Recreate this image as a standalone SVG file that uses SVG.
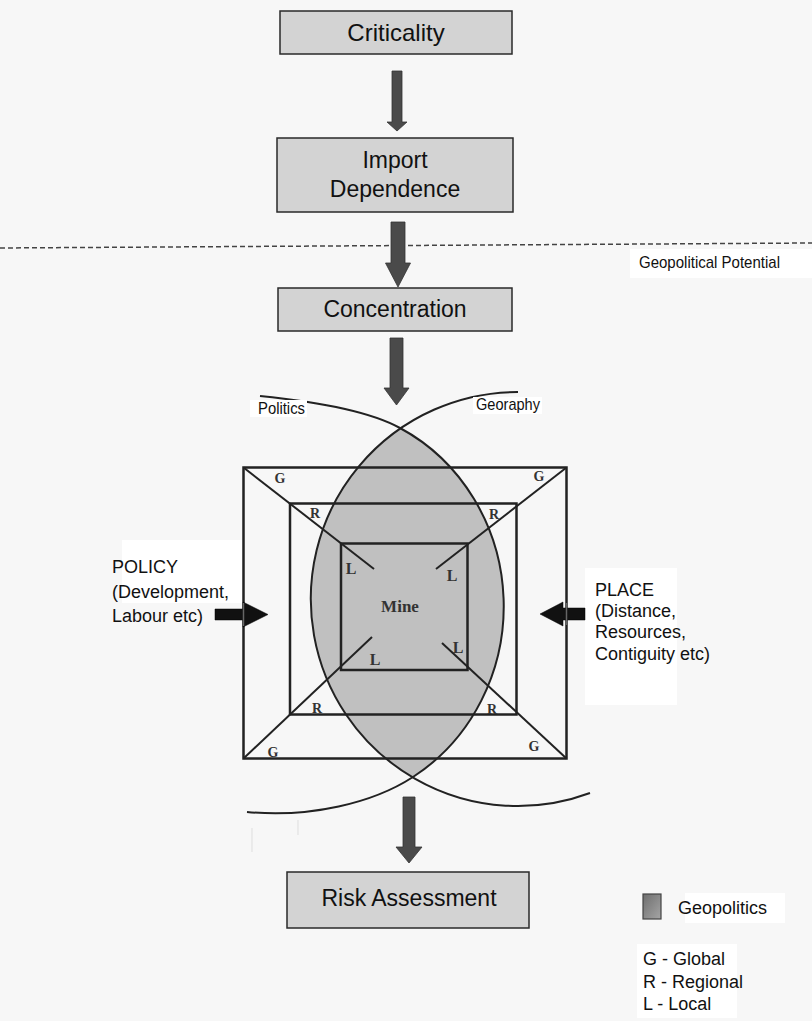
<svg xmlns="http://www.w3.org/2000/svg" width="812" height="1021" viewBox="0 0 812 1021">
<defs>
<style>
.box{fill:#d3d3d3;stroke:#2a2a2a;stroke-width:1.5}
.bt{font-family:"Liberation Sans",Arial,sans-serif;fill:#111;text-anchor:middle}
.t{font-family:"Liberation Sans",Arial,sans-serif;fill:#111}
.sq{fill:none;stroke:#222;stroke-width:2.5}
.dg{stroke:#222;stroke-width:2}
.arc{fill:none;stroke:#222;stroke-width:2}
.sl{font-family:"Liberation Serif","Times New Roman",serif;font-weight:bold;fill:#333;text-anchor:middle}
.va{fill:#4a4a4a;stroke:#333;stroke-width:0.8}
.ha{fill:#111;stroke:#000;stroke-width:0.5}
.wh{fill:#ffffff}
</style>
<linearGradient id="sw" x1="0" y1="0" x2="1" y2="1">
<stop offset="0" stop-color="#6e6e6e"/>
<stop offset="1" stop-color="#a5a5a5"/>
</linearGradient>
</defs>
<rect x="0" y="0" width="812" height="1021" fill="#f7f7f7"/>

<!-- dashed boundary -->
<line x1="0" y1="248" x2="812" y2="243" stroke="#444" stroke-width="1.5" stroke-dasharray="5,3"/>

<g id="geopolitical-potential">
<rect class="wh" x="630" y="249" width="182" height="29"/>
<text class="t" x="639" y="268" font-size="17" textLength="141" lengthAdjust="spacingAndGlyphs">Geopolitical Potential</text>
</g>

<g id="criticality">
<rect class="box" x="280" y="11" width="232" height="43"/>
<text class="bt" x="396" y="41" font-size="24">Criticality</text>
</g>

<g id="import-dependence">
<rect class="box" x="277" y="138" width="236" height="74"/>
<text class="bt" x="395" y="168" font-size="23">Import</text>
<text class="bt" x="395" y="197" font-size="23">Dependence</text>
</g>

<g id="concentration">
<rect class="box" x="278" y="288" width="234" height="43"/>
<text class="bt" x="395" y="317" font-size="23">Concentration</text>
</g>

<g id="policy">
<rect class="wh" x="122" y="540" width="121" height="63"/>
<text class="t" x="112" y="573" font-size="18">POLICY</text>
<text class="t" x="112" y="598" font-size="18">(Development,</text>
<text class="t" x="112" y="622" font-size="18">Labour etc)</text>
</g>

<g id="place">
<rect class="wh" x="585" y="568" width="92" height="137"/>
<text class="t" x="595" y="596" font-size="18">PLACE</text>
<text class="t" x="595" y="617" font-size="18">(Distance,</text>
<text class="t" x="595" y="638" font-size="18">Resources,</text>
<text class="t" x="595" y="660" font-size="18">Contiguity etc)</text>
</g>

<g id="geopolitics-model">
<!-- lens (geopolitics) -->
<path d="M400,428 A191,200.5 0 0 1 413,777 A207,207 0 0 1 400,428 Z" fill="#c0c0c0"/>
<!-- squares -->
<rect class="sq" x="243.5" y="467.5" width="323" height="291"/>
<rect class="sq" x="290" y="503.5" width="226.5" height="211"/>
<rect class="sq" x="341" y="543.5" width="126.5" height="126.5"/>
<!-- diagonals -->
<line class="dg" x1="243.5" y1="467.5" x2="374" y2="569"/>
<line class="dg" x1="566.5" y1="467.5" x2="436" y2="569"/>
<line class="dg" x1="243.5" y1="758.5" x2="372" y2="637"/>
<line class="dg" x1="566.5" y1="758.5" x2="442" y2="643"/>
<!-- Politics arc -->
<path class="arc" d="M260,396 Q360,406 400,428 A191,200.5 0 0 1 413,777 C373,803 310,818 247,812"/>
<!-- Geography arc -->
<path class="arc" d="M518,392 A207,207 0 1 0 590,793"/>
<!-- labels -->
<text class="sl" x="280" y="483" font-size="14">G</text>
<text class="sl" x="539" y="481" font-size="14">G</text>
<text class="sl" x="315" y="518" font-size="14">R</text>
<text class="sl" x="494" y="519" font-size="14">R</text>
<text class="sl" x="351" y="574" font-size="16">L</text>
<text class="sl" x="452" y="581" font-size="16">L</text>
<text class="sl" x="400" y="612" font-size="17" fill="#4d4d4d">Mine</text>
<text class="sl" x="375" y="665" font-size="16">L</text>
<text class="sl" x="458" y="653" font-size="16">L</text>
<text class="sl" x="317" y="713" font-size="14">R</text>
<text class="sl" x="492" y="714" font-size="14">R</text>
<text class="sl" x="273" y="757" font-size="14">G</text>
<text class="sl" x="534" y="751" font-size="14">G</text>
<!-- arc labels -->
<rect class="wh" x="250" y="400" width="57" height="17"/>
<text class="t" x="258" y="414" font-size="17" textLength="47" lengthAdjust="spacingAndGlyphs">Politics</text>
<rect class="wh" x="473" y="397" width="69" height="17"/>
<text class="t" x="476" y="410" font-size="17" textLength="64" lengthAdjust="spacingAndGlyphs">Georaphy</text>
</g>

<!-- faint marks -->
<line x1="252" y1="828" x2="252" y2="852" stroke="#e2e2e2" stroke-width="1.2"/>
<line x1="298" y1="820" x2="298" y2="835" stroke="#e2e2e2" stroke-width="1.2"/>

<g id="connectors">
<polygon class="va" points="392,71 402,71 402,122 407,122 397,131 387,122 392,122"/>
<polygon class="va" points="391,222 405,222 405,263 410.5,263 398,287 385.5,263 391,263"/>
<polygon class="va" points="390,338 403,338 403,388 409,388 396.5,405 384,388 390,388"/>
<polygon class="va" points="403,797 415,797 415,847 422,847 409,863 396,847 403,847"/>
<polygon class="ha" points="215,609 243,609 243,602 268,614.5 243,627 243,620 215,620"/>
<line x1="243.5" y1="603" x2="243.5" y2="626" stroke="#666" stroke-width="1.5"/>
<polygon class="ha" points="585,608 563,608 563,602 540,614 563,626 563,620 585,620"/>
<line x1="566.5" y1="603" x2="566.5" y2="625" stroke="#666" stroke-width="1.5"/>
</g>

<g id="risk-assessment">
<rect class="box" x="287" y="872" width="242" height="56"/>
<text class="bt" x="409" y="906" font-size="23">Risk Assessment</text>
</g>

<g id="legend">
<rect x="643" y="894" width="18" height="25" fill="url(#sw)" stroke="#444" stroke-width="1.2"/>
<rect class="wh" x="685" y="893" width="100" height="30"/>
<text class="t" x="678" y="914" font-size="18">Geopolitics</text>
<rect class="wh" x="637" y="944" width="100" height="74"/>
<text class="t" x="643" y="965" font-size="18">G - Global</text>
<text class="t" x="643" y="988" font-size="18">R - Regional</text>
<text class="t" x="643" y="1010" font-size="18">L - Local</text>
</g>
</svg>
